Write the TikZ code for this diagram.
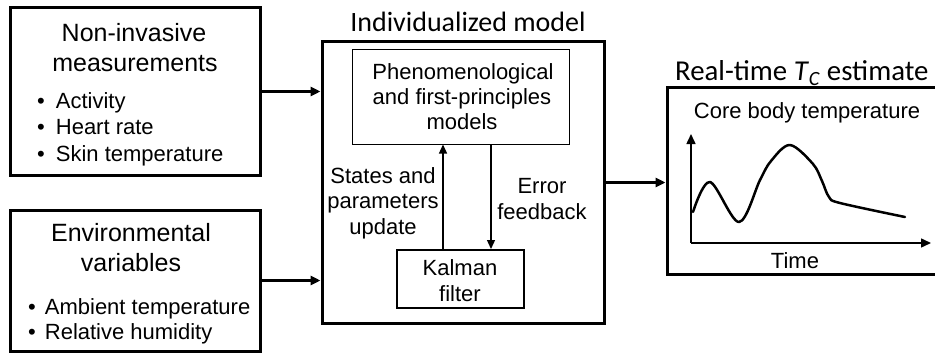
\documentclass[tikz,border=0pt]{standalone}
\usepackage{fontspec}
\setmainfont{Liberation Sans}
\newfontfamily\calfont{Carlito}
\usetikzlibrary{arrows.meta}
\begin{document}
\begin{tikzpicture}[x=1pt,y=-1pt,
  box/.style={draw, line width=3pt, inner sep=0pt, fill=none},
  thinbox/.style={draw, line width=1pt, inner sep=0pt},
  midbox/.style={draw, line width=2pt, inner sep=0pt},
  head/.style={anchor=base, inner sep=0pt, font=\fontsize{25}{30}\selectfont},
  body/.style={anchor=base, inner sep=0pt, font=\fontsize{22}{26}\selectfont},
  bul/.style={anchor=base west, inner sep=0pt, font=\fontsize{22}{26}\selectfont},
  ttl/.style={inner sep=0pt, font=\calfont\fontsize{28}{32}\selectfont},
  bigarrow/.style={line width=2.5pt, -{Triangle[length=10pt,width=9pt]}},
  smallarrow/.style={line width=1.3pt, -{Triangle[length=9pt,width=8pt]}}]
\useasboundingbox (0,0) rectangle (935,353);

% boxes
\node[box, minimum width=250pt, minimum height=167pt] (nim) at (135,91.5) {};
\node[box, minimum width=250pt, minimum height=141pt] (env) at (135,280.5) {};
\node[box, minimum width=282pt, minimum height=281pt] (main) at (463,182.5) {};
\node[thinbox, minimum width=217pt, minimum height=94pt] (phen) at (460.5,97) {};
\node[midbox, minimum width=127pt, minimum height=58pt] (kal) at (460.5,279) {};
\node[box, minimum width=270pt, minimum height=186pt] (rt) at (802,181) {};

% texts: non-invasive
\node[head] (n1) at (134,42) {Non-invasive};
\node[head] (n2) at (135,72) {measurements};
\node[bul] (n3) at (37,108) {•\hspace{11pt}Activity};
\node[bul] (n4) at (37,135) {•\hspace{11pt}Heart rate};
\node[bul] (n5) at (37,161) {•\hspace{11pt}Skin temperature};

% environmental
\node[head] (e1) at (131,241) {Environmental};
\node[head] (e2) at (131,271) {variables};
\node[bul] (e3) at (28,314) {•\hspace{9pt}Ambient temperature};
\node[bul] (e4) at (28,339) {•\hspace{9pt}Relative humidity};

% individualized model
\node[ttl, anchor=base] (mt) at (468,32) {Individualized model};
\node[body] (p1) at (463,80) {Phenomenological};
\node[body] (p2) at (462,104) {and first-principles};
\node[body] (p3) at (462,129) {models};
\node[body] (k1) at (460,275) {Kalman};
\node[body] (k2) at (460,301) {filter};
\node[body] (s1) at (383,183) {States and};
\node[body] (s2) at (383,208) {parameters};
\node[body] (s3) at (383,234) {update};
\node[body] (f1) at (542,193) {Error};
\node[body] (f2) at (542,219) {feedback};

% real-time
\node[ttl, anchor=base west, font=\calfont\fontsize{28.8}{33}\selectfont] (rtt) at (675,81) {Real-time \textit{T}\textsubscript{\textit{C}} estimate};
\node[body] (c1) at (807,118) {Core body temperature};
\node[body] (tm) at (795,268) {Time};

% connectors
\coordinate (up) at (443,0);
\coordinate (dn) at (491,0);
\draw[bigarrow] (nim.east) -- (nim.east -| main.west);
\draw[bigarrow] (env.east) -- (env.east -| main.west);
\draw[bigarrow] (main.east) -- (main.east -| rt.west);
\draw[smallarrow] (kal.north -| up) -- (phen.south -| up);
\draw[smallarrow] (phen.south -| dn) -- (kal.north -| dn);

% plot
\coordinate (o) at (691,243);
\coordinate (ytop) at (691,134);
\coordinate (xend) at (931,243);
\draw[line width=1.5pt, -{Triangle[length=10pt,width=9pt]}] (o) -- (ytop);
\draw[line width=1.5pt, -{Triangle[length=10pt,width=9pt]}] (o) -- (xend);
\draw[line width=2.5pt, line join=round, line cap=round]
  plot[smooth, tension=0.55] coordinates {(693,212) (710,182) (739,222) (760,180) (771,161) (790,145) (813,164) (822,181) (829,197) (840,203) (905,217)};
\end{tikzpicture}
\end{document}
